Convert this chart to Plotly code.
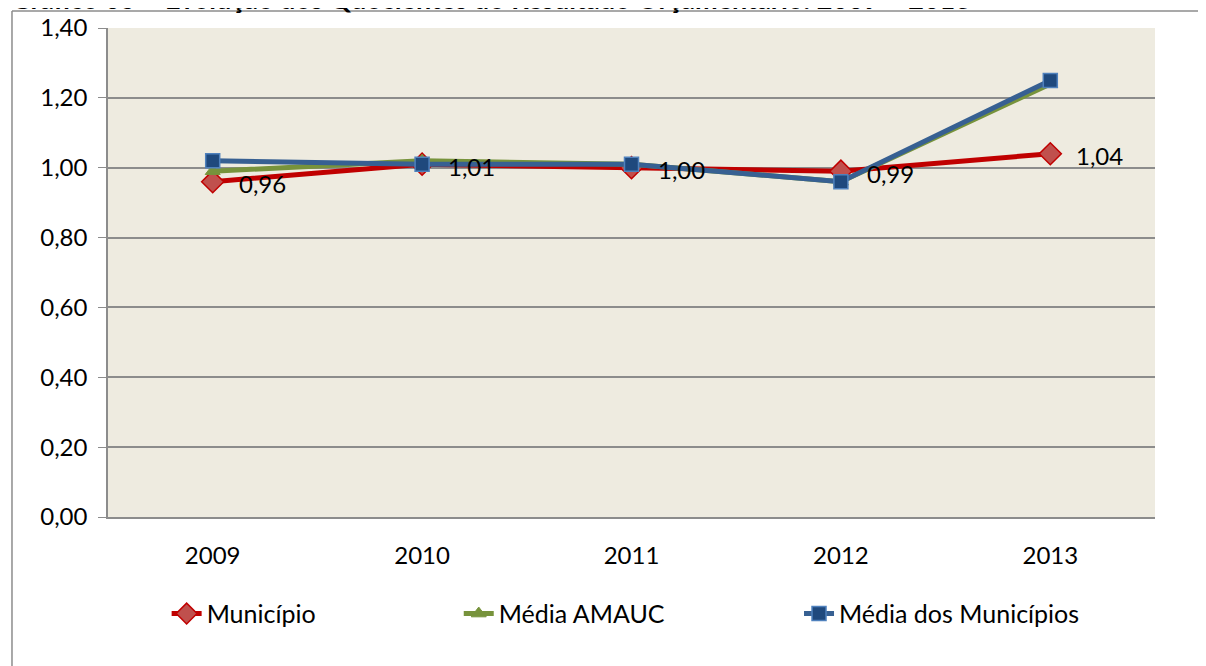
import plotly.graph_objects as go

years = ["2009", "2010", "2011", "2012", "2013"]
municipio = [0.96, 1.01, 1.00, 0.99, 1.04]
media_amauc = [0.99, 1.02, 1.01, 0.96, 1.24]
media_municipios = [1.02, 1.01, 1.01, 0.96, 1.25]
y_ticks = [0.0, 0.2, 0.4, 0.6, 0.8, 1.0, 1.2, 1.4]
title_text = "Gráfico 05 – Evolução dos Quocientes do Resultado Orçamentário: 2009 – 2013"

FONT = "Lato, 'Open Sans', sans-serif"

fig = go.Figure()
fig.add_trace(go.Scatter(
    x=years, y=municipio, name="Município", mode="lines+markers", legend="legend",
    line=dict(color="#C00000", width=5),
    marker=dict(symbol="diamond", size=17, color="#C0504D", line=dict(color="#C00000", width=1.5)),
))
fig.add_trace(go.Scatter(
    x=years, y=media_amauc, name="Média AMAUC", mode="lines+markers", legend="legend2",
    line=dict(color="#77933C", width=5),
    marker=dict(symbol="triangle-up", size=13, color="#77933C", line=dict(color="#77933C", width=1)),
))
fig.add_trace(go.Scatter(
    x=years, y=media_municipios, name="Média dos Municípios", mode="lines+markers", legend="legend3",
    line=dict(color="#376092", width=5),
    marker=dict(symbol="square", size=14, color="#1F497D", line=dict(color="#4F81BD", width=1.5)),
))

annotations = []
for i, v in enumerate(municipio):
    annotations.append(dict(
        x=i, y=v, xref="x", yref="y", text=f"{v:.2f}".replace(".", ","),
        showarrow=False, xanchor="left", yanchor="middle", xshift=24, yshift=-2,
        font=dict(family=FONT, size=24, color="#000000"),
    ))
annotations.append(dict(
    x=-0.095, y=1.0605, xref="paper", yref="paper", text=f"<b>{title_text}</b>",
    showarrow=False, xanchor="left", yanchor="middle",
    font=dict(family=FONT, size=27, color="#000000"),
))

leg_common = dict(orientation="h", yanchor="middle", y=-0.198, xanchor="left",
                  font=dict(family=FONT, size=25, color="#000000"), bgcolor="rgba(0,0,0,0)")

fig.update_layout(
    width=1198, height=658,
    margin=dict(l=100, r=51, t=20, b=149, autoexpand=False),
    paper_bgcolor="#FFFFFF", plot_bgcolor="#EEEBE0",
    separators=",.",
    font=dict(family=FONT, size=24, color="#000000"),
    showlegend=True,
    legend=dict(x=0.056, **leg_common),
    legend2=dict(x=0.335, **leg_common),
    legend3=dict(x=0.660, **leg_common),
    annotations=annotations,
    shapes=[
        dict(type="line", xref="paper", yref="paper", x0=-0.0917, x1=1.2, y0=1.0348, y1=1.0348,
             line=dict(color="#8C8C8C", width=1.5)),
        dict(type="line", xref="paper", yref="paper", x0=-0.0917, x1=-0.0917, y0=1.0348, y1=-0.4,
             line=dict(color="#8C8C8C", width=1.5)),
    ],
)
fig.update_xaxes(type="category", range=[-0.5, 4.5], showgrid=False, showline=True,
                 linecolor="#8C8C8C", linewidth=2, ticks="", ticklabelstandoff=16,
                 tickfont=dict(size=24))
fig.update_yaxes(range=[0, 1.4], tickvals=y_ticks, tickformat=".2f", showgrid=True,
                 gridcolor="#8C8C8C", gridwidth=1.5, showline=True, linecolor="#8C8C8C",
                 linewidth=1.5, ticks="outside", ticklen=8, tickcolor="#8C8C8C",
                 ticklabelstandoff=6, tickfont=dict(size=24), zeroline=False)

fig.write_html("out.html")
